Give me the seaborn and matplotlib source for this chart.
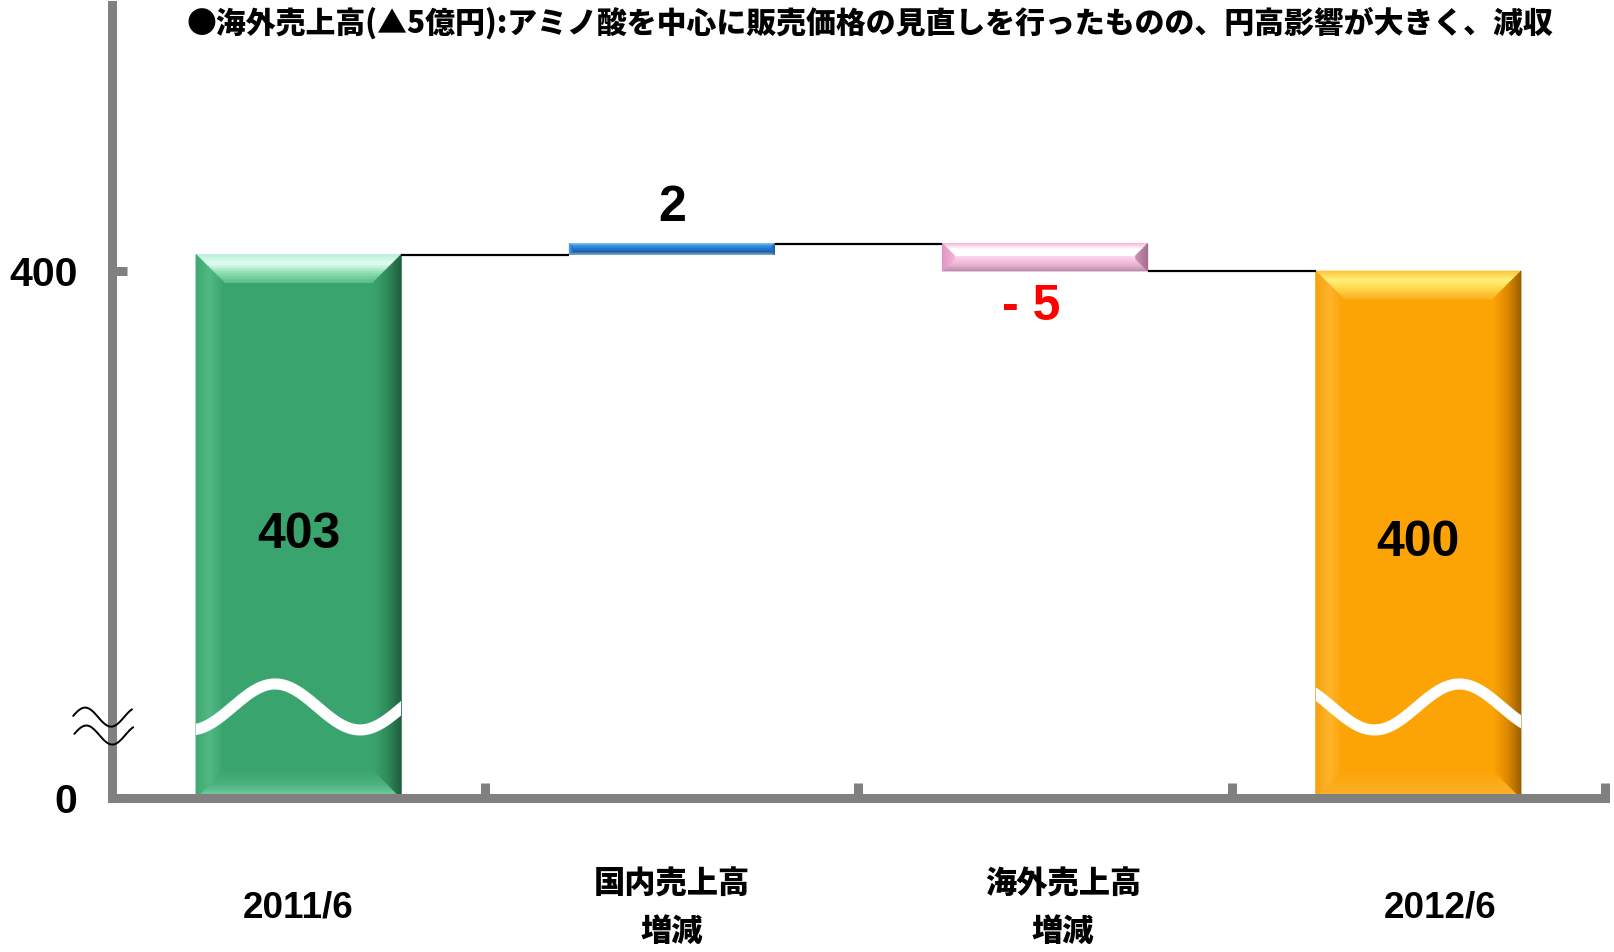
import numpy as np
import matplotlib
matplotlib.use("Agg")
import matplotlib.pyplot as plt
import seaborn as sns
from matplotlib.patches import Polygon
from matplotlib.transforms import IdentityTransform, blended_transform_factory, ScaledTranslation
from matplotlib.colors import to_rgb

# ---- data ----------------------------------------------------------------
categories = ["2011/6", "国内売上高\n増減", "海外売上高\n増減", "2012/6"]
opening = 403          # 2011/6 sales
changes = [2, -5]      # domestic, overseas
closing = 400          # 2012/6 sales
y_ticks = [0, 400]
y_tick_labels = ["0", "400"]
title = "●海外売上高(▲5億円):アミノ酸を中心に販売価格の見直しを行ったものの、円高影響が大きく、減収"

# ---- waterfall geometry --------------------------------------------------
bottoms, heights, levels = [0], [opening], [opening]
running = opening
for c in changes:
    bottoms.append(min(running, running + c))
    heights.append(abs(c))
    running += c
    levels.append(running)
bottoms.append(0)
heights.append(closing)

value_labels = [str(opening)] + [
    (f"{c}" if c > 0 else f"- {abs(c)}") for c in changes] + [str(closing)]

# ---- style ---------------------------------------------------------------
sns.set_style("white")
plt.rcParams["font.family"] = ["Liberation Sans", "Noto Sans CJK JP", "DejaVu Sans"]
plt.rcParams["text.color"] = "black"
plt.rcParams["xtick.labelcolor"] = "black"
plt.rcParams["ytick.labelcolor"] = "black"
JP = ["Noto Sans CJK JP", "DejaVu Sans"]
NUM = ["Liberation Sans", "DejaVu Sans"]
GRAY = "#808080"

bar_colors = ["#3aa46e", "#1a78d2", "#fbd3ea", "#fca306"]

fig = plt.figure(figsize=(16.14, 9.52), dpi=100)
ax = fig.add_axes([112 / 1614, 1 - 798 / 952, (1605 - 112) / 1614, (798 - 5) / 952])

sns.barplot(x=categories, y=heights, hue=categories, palette=bar_colors,
            legend=False, width=0.55, errorbar=None, saturation=1, ax=ax)

# float the change bars onto the running total
for p, b, h in zip(ax.patches, bottoms, heights):
    p.set_y(b)
    p.set_height(h)
    p.set_linewidth(0)

# broken value axis: 0-400 compressed, above 400 expanded
BREAK, K_LOW, K_HIGH = 400, 527 / 400, 5.5


def fwd(y):
    y = np.asarray(y, dtype=float)
    return np.where(y < BREAK, y * K_LOW, BREAK * K_LOW + (y - BREAK) * K_HIGH)


def inv(u):
    u = np.asarray(u, dtype=float)
    return np.where(u < BREAK * K_LOW, u / K_LOW, BREAK + (u - BREAK * K_LOW) / K_HIGH)


ax.set_yscale("function", functions=(fwd, inv))
ax.set_ylim(0, float(inv(793)))
ax.set_xlim(-0.5, 3.5)

# axes, ticks
for s in ("top", "right"):
    ax.spines[s].set_visible(False)
for s in ("left", "bottom"):
    ax.spines[s].set_color(GRAY)
    ax.spines[s].set_linewidth(6.5)
ax.set_yticks(y_ticks, labels=y_tick_labels)
ax.minorticks_off()
ax.tick_params(axis="y", left=True, direction="in", length=11, width=6.5, color=GRAY,
               pad=25, labelsize=29.5, labelcolor="black")
for t in ax.get_yticklabels():
    t.set_fontweight("bold")
    t.set_fontfamily(NUM)

ax.set_xticks(range(len(categories)), labels=categories)
ax.set_xticks([0.5, 1.5, 2.5, 3.5], minor=True)
ax.tick_params(axis="x", which="major", bottom=True, length=0, pad=79, labelcolor="black")
ax.tick_params(axis="x", which="minor", bottom=True, direction="in", length=11, width=6.5,
               color=GRAY)
ax.set_xlabel("")
ax.set_ylabel("")
label_shift = [0, 0, 18, 22]   # px, horizontal nudge of the category labels
for t, dx in zip(ax.get_xticklabels(), label_shift):
    t.set_va("center")
    t.set_fontweight("bold")
    t.set_color("black")
    if dx:
        t.set_transform(t.get_transform() + ScaledTranslation(dx / 100, 0, fig.dpi_scale_trans))
    if "\n" in t.get_text():
        t.set_fontfamily(JP)
        t.set_fontsize(22.5)
        t.set_fontweight("black")
        t.set_linespacing(1.62)
        t.set_multialignment("center")
    else:
        t.set_fontfamily(NUM)
        t.set_fontsize(26.5)


# ---- bevel shading on the bars ------------------------------------------
def mix(stops, t):
    stops = [np.array(to_rgb(c)) for c in stops]
    if len(stops) == 1:
        return tuple(stops[0])
    pos = t * (len(stops) - 1)
    i = min(int(pos), len(stops) - 2)
    f = pos - i
    return tuple(stops[i] * (1 - f) + stops[i + 1] * f)


def shade_bar(ax, p, base, top, bot, left, right, d, n=18):
    bb = p.get_window_extent()
    x0, y0, x1, y1 = bb.x0, bb.y0, bb.x1, bb.y1
    d = min(d, (y1 - y0) / 2.2)
    tr = IdentityTransform()
    polys = []
    for k in range(n):
        t0, t1 = k / n, (k + 1) / n
        tm = (t0 + t1) / 2
        a, b = d * t0, d * t1
        # top band (edge -> inner)
        polys.append(([(x0 + a, y1 - a), (x1 - a, y1 - a), (x1 - b, y1 - b), (x0 + b, y1 - b)], mix(top, tm)))
        # bottom band
        polys.append(([(x0 + a, y0 + a), (x1 - a, y0 + a), (x1 - b, y0 + b), (x0 + b, y0 + b)], mix(bot, tm)))
        # left band
        polys.append(([(x0 + a, y0 + a), (x0 + b, y0 + b), (x0 + b, y1 - b), (x0 + a, y1 - a)], mix(left, tm)))
        # right band
        polys.append(([(x1 - a, y0 + a), (x1 - b, y0 + b), (x1 - b, y1 - b), (x1 - a, y1 - a)], mix(right, tm)))
    for verts, col in polys:
        ax.add_patch(Polygon(verts, closed=True, facecolor=col, edgecolor=col,
                             lw=0.6, transform=tr, zorder=2.5))


shade_specs = [
    dict(base="#3aa46e", top=["#b9f0d6", "#e6fff6", "#8fdfb4", "#5cc08c"],
         bot=["#7fd3a8", "#4cb27f", "#3aa46e"],
         left=["#3fa872", "#52b985", "#3aa46e"], right=["#1f5d3c", "#2f8a5a", "#3aa46e"], d=28),
    dict(base="#1a78d2", top=["#8cc4ee", "#2b88dc"], bot=["#86b6e0", "#1f5c99"],
         left=["#6aa8e4", "#1a78d2"], right=["#2a5a92", "#1a78d2"], d=3.5),
    dict(base="#fde6f3", top=["#f6b4d8", "#ffffff", "#ffffff"], bot=["#b78aa7", "#e7b0d0", "#fbc7e4"],
         left=["#e394c4", "#f2b2d8"], right=["#a26c8c", "#c98fb0"], d=12),
    dict(base="#fca306", top=["#ffc23a", "#fff27a", "#ffd64a", "#fdb020"],
         bot=["#fdb32c", "#fca306"],
         left=["#f5a00e", "#ffb52c", "#fca306"], right=["#9a5c00", "#de8a00", "#fca306"], d=28),
]
for p, spec in zip(ax.patches[:len(shade_specs)], shade_specs):
    shade_bar(ax, p, **spec)

bars = list(ax.patches[:len(categories)])

# ---- connector lines -----------------------------------------------------
for i, lvl in enumerate(levels):
    xa = bars[i].get_x() + bars[i].get_width()
    xb = bars[i + 1].get_x()
    ax.plot([xa, xb], [lvl, lvl], color="black", lw=1.6, zorder=3, solid_capstyle="butt")

# ---- axis-break waves across the total bars -----------------------------
blend = blended_transform_factory(ax.transData, ax.transAxes)
period = 170 / 373.4
for i, peak in ((0, -0.063), (len(bars) - 1, 0.11)):
    c = i
    xs = np.linspace(c - 0.4, c + 0.4, 300)
    ys = 0.1148 + 0.029 * np.cos(2 * np.pi * (xs - (c + peak)) / period)
    ln, = ax.plot(xs, ys, color="white", lw=8, transform=blend, zorder=4,
                  solid_capstyle="butt")
    ln.set_clip_path(bars[i])

# break mark on the value axis
xs = np.linspace(-0.026, 0.0134, 100)
for yc, dx in ((0.102, 0.0), (0.0794, 0.0008)):
    ys = yc + 0.012 * np.cos(2 * np.pi * (xs - (-0.018)) / 0.0348)
    ax.plot(xs + dx, ys, color="black", lw=1.4, transform=ax.transAxes,
            clip_on=False, zorder=6)

# ---- value labels --------------------------------------------------------
ax.text(0, 0.332, value_labels[0], transform=blend, ha="center", va="center",
        fontsize=36, fontweight="bold", family=NUM, color="black", zorder=5)
ax.text(len(bars) - 1, 0.322, value_labels[-1], transform=blend, ha="center", va="center",
        fontsize=36, fontweight="bold", family=NUM, color="black", zorder=5)
for i, c in enumerate(changes, start=1):
    top = bottoms[i] + heights[i]
    if c >= 0:
        ax.annotate(value_labels[i], xy=(i, top), xytext=(0, 25.5), textcoords="offset points",
                    ha="center", va="center", fontsize=36, fontweight="bold",
                    family=NUM, color="black", zorder=5)
    else:
        ax.annotate(value_labels[i], xy=(i, bottoms[i]), xytext=(-10, -26),
                    textcoords="offset points", ha="center", va="center",
                    fontsize=36, fontweight="bold", family=NUM, color="#ff0000", zorder=5)

# ---- heading -------------------------------------------------------------
fig.text(870 / 1614, 1 - 23 / 952, title, ha="center", va="center",
         fontsize=21.5, fontweight="black", family=JP, color="black")

fig.savefig("out.png", dpi=100, facecolor="white")
